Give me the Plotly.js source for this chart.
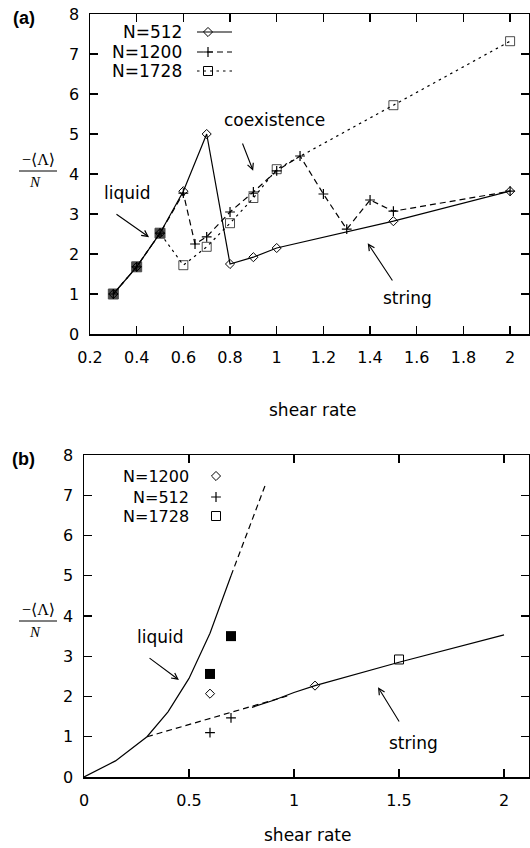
<!DOCTYPE html>
<html>
<head>
<meta charset="utf-8">
<script src="https://cdn.plot.ly/plotly-3.0.1.min.js"></script>
<style>html,body{margin:0;padding:0;background:#fff;}#chart{width:530px;height:848px;}</style>
</head>
<body>
<div id="chart"></div>
<script>
// ---------- Panel (a) data ----------
const xA512  = [0.3, 0.4, 0.5, 0.6, 0.7, 0.8, 0.9, 1.0, 1.5, 2.0];
const yA512  = [1.0, 1.68, 2.52, 3.57, 5.0, 1.75, 1.92, 2.15, 2.82, 3.57];
const xA1200 = [0.3, 0.4, 0.5, 0.6, 0.65, 0.7, 0.8, 0.9, 1.0, 1.1, 1.2, 1.3, 1.4, 1.5, 2.0];
const yA1200 = [1.0, 1.68, 2.52, 3.52, 2.25, 2.43, 3.05, 3.55, 4.08, 4.45, 3.5, 2.62, 3.35, 3.07, 3.57];
const xA1728 = [0.3, 0.4, 0.5, 0.6, 0.7, 0.8, 0.9, 1.0, 1.5, 2.0];
const yA1728 = [1.0, 1.68, 2.52, 1.72, 2.18, 2.77, 3.4, 4.12, 5.72, 7.32];
const xTicksA = [0.2, 0.4, 0.6, 0.8, 1.0, 1.2, 1.4, 1.6, 1.8, 2.0];
const xTickTextA = ['0.2', '0.4', '0.6', '0.8', '1', '1.2', '1.4', '1.6', '1.8', '2'];
const legendA = ['N=512', 'N=1200', 'N=1728'];

// ---------- Panel (b) data ----------
const xLiquid = [0, 0.15, 0.3, 0.4, 0.5, 0.6, 0.7];
const yLiquid = [0, 0.4, 1.0, 1.62, 2.45, 3.57, 5.0];
const xLiquidExt = [0.7, 0.863];
const yLiquidExt = [5.0, 7.25];
const xStringExt = [0.3, 0.98];
const yStringExt = [1.0, 2.03];
const xString = [0.8, 0.9, 1.0, 1.1, 1.5, 2.0];
const yString = [1.73, 1.9, 2.1, 2.27, 2.85, 3.53];
const xB1200 = [0.6, 1.1];
const yB1200 = [2.07, 2.27];
const xB512 = [0.6, 0.7];
const yB512 = [1.1, 1.47];
const xB1728 = [1.5];
const yB1728 = [2.92];
const xBfilled = [0.6, 0.7];
const yBfilled = [2.56, 3.5];
const xTicksB = [0, 0.5, 1, 1.5, 2];
const xTickTextB = ['0', '0.5', '1', '1.5', '2'];
const legendB = ['N=1200', 'N=512', 'N=1728'];
const yTicks = [0, 1, 2, 3, 4, 5, 6, 7, 8];

const W = 530, H = 848;
const FONT = 'DejaVu Sans, Liberation Sans, Arial, sans-serif';
const SERIF = 'Liberation Serif, DejaVu Serif, serif';
const DASH = '6px,4px';
const DOT = '2.5px,4px';

const lw = 1.2;
const DIA = {symbol: 'diamond-open', size: 7, color: '#000', line: {width: 1, color: '#000'}};
const CRS = {symbol: 'cross-thin-open', size: 7, color: '#000', line: {width: 1.2, color: '#000'}};
const SQR = {symbol: 'square-open', size: 9, color: '#000', line: {width: 1, color: '#000'}};

const traces = [
  // panel (a)
  {x: xA512, y: yA512, xaxis: 'x', yaxis: 'y', mode: 'lines+markers',
   line: {color: '#000', width: lw}, marker: DIA},
  {x: xA1200, y: yA1200, xaxis: 'x', yaxis: 'y', mode: 'lines+markers',
   line: {color: '#000', width: lw, dash: DASH}, marker: CRS},
  {x: xA1728, y: yA1728, xaxis: 'x', yaxis: 'y', mode: 'lines+markers',
   line: {color: '#000', width: lw, dash: DOT},
   marker: {symbol: xA1728.map((v, i) => i < 3 ? 'square' : 'square-open'),
            size: xA1728.map((v, i) => i < 3 ? 10 : 9), color: '#000', line: {width: 1, color: '#000'}}},
  // panel (b)
  {x: xLiquid, y: yLiquid, xaxis: 'x2', yaxis: 'y2', mode: 'lines', line: {color: '#000', width: lw}},
  {x: xLiquidExt, y: yLiquidExt, xaxis: 'x2', yaxis: 'y2', mode: 'lines', line: {color: '#000', width: lw, dash: DASH}},
  {x: xStringExt, y: yStringExt, xaxis: 'x2', yaxis: 'y2', mode: 'lines', line: {color: '#000', width: lw, dash: DASH}},
  {x: xString, y: yString, xaxis: 'x2', yaxis: 'y2', mode: 'lines', line: {color: '#000', width: lw}},
  {x: xB1200, y: yB1200, xaxis: 'x2', yaxis: 'y2', mode: 'markers', marker: DIA},
  {x: xB512, y: yB512, xaxis: 'x2', yaxis: 'y2', mode: 'markers', marker: CRS},
  {x: xB1728, y: yB1728, xaxis: 'x2', yaxis: 'y2', mode: 'markers', marker: SQR},
  {x: xBfilled, y: yBfilled, xaxis: 'x2', yaxis: 'y2', mode: 'markers',
   marker: {symbol: 'square', size: 10, color: '#000'}},
  // legend glyphs (pixel-coordinate overlay axis)
  {x: [197, 232], y: [32, 32], xaxis: 'x3', yaxis: 'y3', mode: 'lines', line: {color: '#000', width: lw}},
  {x: [208], y: [32], xaxis: 'x3', yaxis: 'y3', mode: 'markers', marker: DIA},
  {x: [197, 232], y: [52, 52], xaxis: 'x3', yaxis: 'y3', mode: 'lines', line: {color: '#000', width: lw, dash: DASH}},
  {x: [208], y: [52], xaxis: 'x3', yaxis: 'y3', mode: 'markers', marker: CRS},
  {x: [197, 232], y: [71, 71], xaxis: 'x3', yaxis: 'y3', mode: 'lines', line: {color: '#000', width: lw, dash: DOT}},
  {x: [208], y: [71], xaxis: 'x3', yaxis: 'y3', mode: 'markers', marker: SQR},
  {x: [216], y: [476], xaxis: 'x3', yaxis: 'y3', mode: 'markers', marker: DIA},
  {x: [216], y: [497], xaxis: 'x3', yaxis: 'y3', mode: 'markers', marker: CRS},
  {x: [216], y: [516], xaxis: 'x3', yaxis: 'y3', mode: 'markers', marker: SQR}
];

const axisCommon = {
  showline: true, linecolor: '#000', linewidth: 1.5, mirror: 'ticks',
  ticks: 'inside', ticklen: 8, tickwidth: 1.3, tickcolor: '#000',
  showgrid: false, zeroline: false,
  tickfont: {family: FONT, size: 16, color: '#000'}
};

function pann(text, px, py, font, xanchor) {
  return {text: text, x: px / W, y: 1 - py / H, xref: 'paper', yref: 'paper', showarrow: false,
          xanchor: xanchor || 'center', yanchor: 'middle', font: font};
}
function ann(text, x, y, xr, yr, size) {
  return {text: text, x: x, y: y, xref: xr, yref: yr, showarrow: false, xanchor: 'center', yanchor: 'middle',
          font: {family: FONT, size: size || 17, color: '#000'}};
}
function arrow(hx, hy, tx, ty, xr, yr) {
  return {text: '', x: hx, y: hy, ax: tx, ay: ty, xref: xr, yref: yr, axref: xr, ayref: yr,
          showarrow: true, arrowhead: 5, arrowsize: 1.1, arrowwidth: 1.1, arrowcolor: '#000', standoff: 0, startstandoff: 0};
}

const fLab = {family: 'Liberation Sans, Arial, sans-serif', size: 18, color: '#000'};
const fNum = {family: SERIF, size: 16, color: '#000'};
const fDen = {family: SERIF, size: 15, color: '#000'};
const fLegA = {family: FONT, size: 17, color: '#000'};
const fLegB = {family: FONT, size: 16, color: '#000'};
const fTitle = {family: FONT, size: 17, color: '#000'};

const annotations = [
  pann('<b>(a)</b>', 24, 18, fLab),
  pann('<b>(b)</b>', 23, 459, fLab),
  pann('−⟨Λ⟩', 38, 160, fNum),
  pann('<i>N</i>', 35, 182, fDen),
  pann('−⟨Λ⟩', 38, 609, fNum),
  pann('<i>N</i>', 35, 632, fDen),
  pann('shear rate', 312, 410, fTitle),
  pann('shear rate', 307, 835, fTitle),
  pann(legendA[0], 184, 32, fLegA, 'right'),
  pann(legendA[1], 184, 52, fLegA, 'right'),
  pann(legendA[2], 184, 71, fLegA, 'right'),
  pann(legendB[0], 191, 476, fLegB, 'right'),
  pann(legendB[1], 191, 497, fLegB, 'right'),
  pann(legendB[2], 191, 516, fLegB, 'right'),
  // panel (a) labels and arrows
  ann('liquid', 0.359, 3.52, 'x', 'y'),
  arrow(0.453, 2.42, 0.307, 3.02, 'x', 'y'),
  ann('coexistence', 0.99, 5.35, 'x', 'y'),
  arrow(0.899, 4.08, 0.851, 4.8, 'x', 'y'),
  ann('string', 1.559, 0.9, 'x', 'y'),
  arrow(1.39, 2.27, 1.50, 1.3, 'x', 'y'),
  // panel (b) labels and arrows
  ann('liquid', 0.362, 3.47, 'x2', 'y2'),
  arrow(0.452, 2.41, 0.305, 2.98, 'x2', 'y2'),
  ann('string', 1.571, 0.84, 'x2', 'y2'),
  arrow(1.40, 2.23, 1.505, 1.34, 'x2', 'y2')
];

const shapes = [
  {type: 'line', xref: 'paper', yref: 'paper', x0: 19 / W, x1: 57 / W, y0: 1 - 171 / H, y1: 1 - 171 / H, line: {color: '#000', width: 1}},
  {type: 'line', xref: 'paper', yref: 'paper', x0: 19 / W, x1: 57 / W, y0: 1 - 621 / H, y1: 1 - 621 / H, line: {color: '#000', width: 1}}
];

const layout = {
  width: W, height: H,
  margin: {l: 0, r: 0, t: 0, b: 0},
  paper_bgcolor: '#fff', plot_bgcolor: 'rgba(0,0,0,0)',
  showlegend: false,
  xaxis: Object.assign({}, axisCommon, {domain: [90 / W, 529 / W], range: [0.2, 2.081], anchor: 'y',
    tickvals: xTicksA, ticktext: xTickTextA, ticklabelstandoff: 8}),
  yaxis: Object.assign({}, axisCommon, {domain: [1 - 334 / H, 1 - 14 / H], range: [0, 8], anchor: 'x',
    tickvals: yTicks, ticklabelstandoff: 6}),
  xaxis2: Object.assign({}, axisCommon, {domain: [84 / W, 529 / W], range: [0, 2.119], anchor: 'y2',
    tickvals: xTicksB, ticktext: xTickTextB, ticklabelstandoff: 8}),
  yaxis2: Object.assign({}, axisCommon, {domain: [1 - 777 / H, 1 - 455 / H], range: [0, 8], anchor: 'x2',
    tickvals: yTicks, ticklabelstandoff: 6}),
  xaxis3: {domain: [0, 1], range: [0, W], anchor: 'y3', visible: false, fixedrange: true},
  yaxis3: {domain: [0, 1], range: [H, 0], anchor: 'x3', visible: false, fixedrange: true},
  annotations: annotations,
  shapes: shapes
};

Plotly.newPlot('chart', traces, layout, {staticPlot: true, displayModeBar: false});
</script>
</body>
</html>
